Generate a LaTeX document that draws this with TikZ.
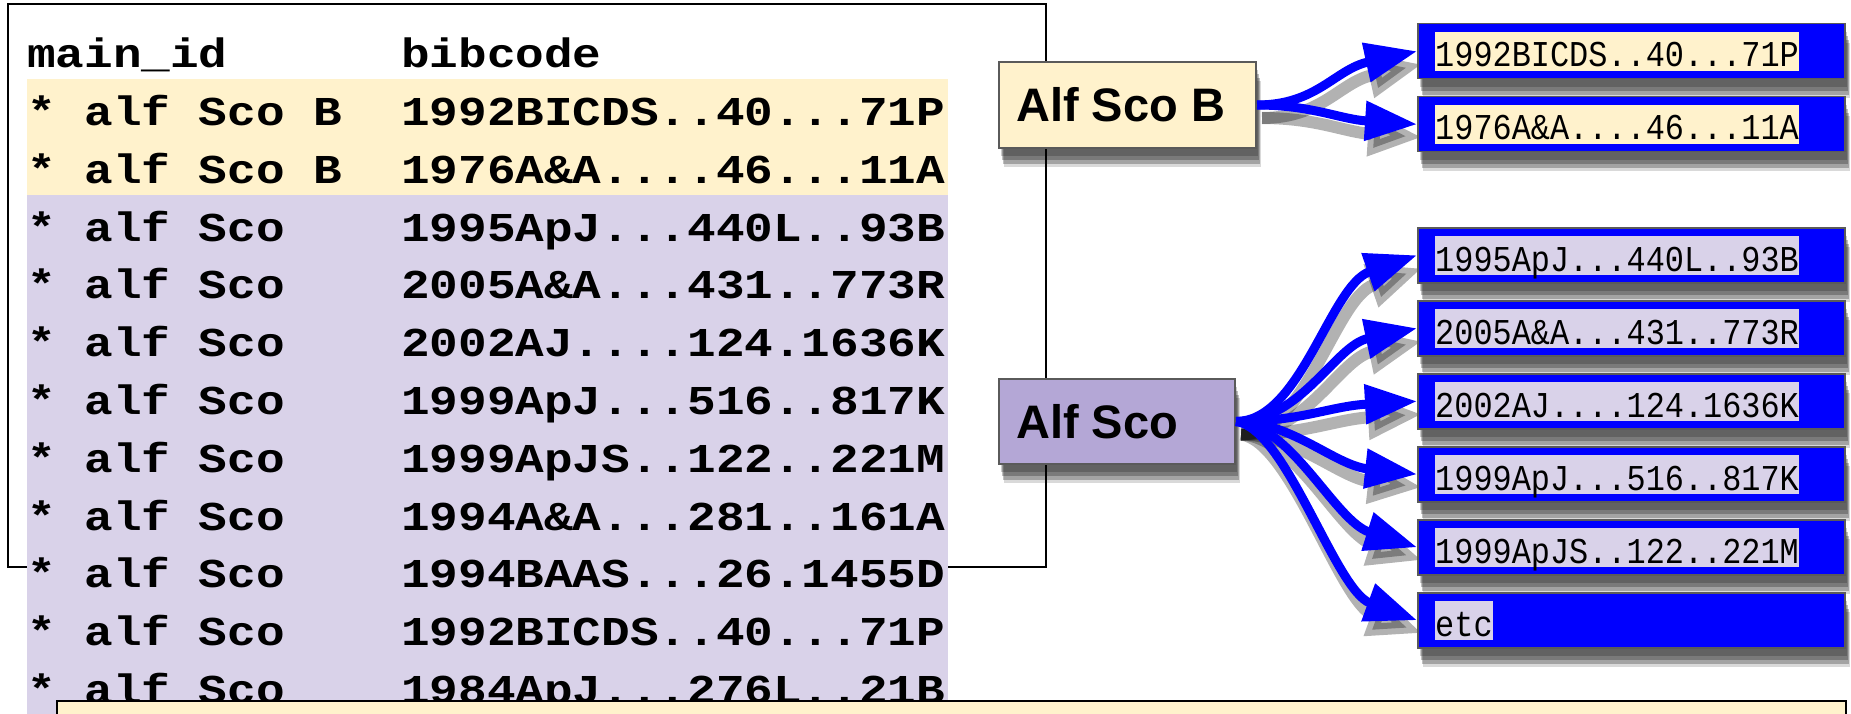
\documentclass[tikz,border=0pt]{standalone}
\usepackage{fontspec}
\usepackage{graphicx}
\newfontfamily\tabfont{Liberation Mono}
\newfontfamily\lblfont{Liberation Sans}
\usetikzlibrary{arrows.meta,shadows,calc}
\definecolor{cream}{HTML}{FFF2CC}
\definecolor{lav}{HTML}{D9D2E9}
\definecolor{lavdark}{HTML}{B4A7D6}
\definecolor{boxblue}{HTML}{0000FF}
\definecolor{edgegray}{HTML}{5A5A5A}
\pgfdeclarelayer{bg}
\pgfsetlayers{bg,main}
\tikzset{
  rowtext/.style={anchor=base west, inner sep=0pt,
    font=\tabfont\bfseries\fontsize{47.7}{58}\selectfont},
  softshadow/.style={
    general shadow={shadow xshift=2pt, shadow yshift=-8pt, fill=black, opacity=0.2},
    general shadow={shadow xshift=3pt, shadow yshift=-12pt, fill=black, opacity=0.25},
    general shadow={shadow xshift=4pt, shadow yshift=-16pt, fill=black, opacity=0.25},
    general shadow={shadow xshift=5pt, shadow yshift=-19pt, fill=black, opacity=0.15}},
  srcbox/.style={draw=edgegray, line width=2pt, anchor=north west,
    minimum height=86pt, inner sep=0pt, softshadow},
  srclabel/.style={anchor=west, inner sep=0pt,
    font=\lblfont\bfseries\fontsize{47}{50}\selectfont},
  refbox/.style={draw=edgegray, line width=1.5pt, fill=boxblue, anchor=north west,
    minimum width=427pt, minimum height=55pt, inner sep=0pt, softshadow},
  reftext/.style={anchor=base west, inner sep=0pt, text height=35pt, text depth=4pt,
    font=\tabfont\fontsize{31.9}{38}\selectfont},
  link/.style={draw=boxblue, line width=9pt, -{Triangle[length=52pt,width=38pt]}},
  linkshadow/.style={draw=black, draw opacity=0.3, fill opacity=0.3, line width=12pt,
    -{Triangle[length=54pt,width=42pt]}},
}
\newcommand\allLinks[1]{%
  \draw[#1] (sB.east) .. controls ($(sB.east)+(60,0)$) and ($(r1.west)+(-82,18)$) .. (r1.west);
  \draw[#1] (sB.east) .. controls ($(sB.east)+(55,0)$) and ($(r2.west)+(-77,-5)$) .. (r2.west);
  \draw[#1] (sA.east) .. controls ($(sA.east)+(65,0)$) and ($(a1.west)+(-87,30)$) .. (a1.west);
  \draw[#1] (sA.east) .. controls ($(sA.east)+(65,0)$) and ($(a2.west)+(-82,17)$) .. (a2.west);
  \draw[#1] (sA.east) .. controls ($(sA.east)+(65,0)$) and ($(a3.west)+(-87,5)$) .. (a3.west);
  \draw[#1] (sA.east) .. controls ($(sA.east)+(55,0)$) and ($(a4.west)+(-82,-9)$) .. (a4.west);
  \draw[#1] (sA.east) .. controls ($(sA.east)+(55,2)$) and ($(a5.west)+(-82,-26)$) .. (a5.west);
  \draw[#1] (sA.east) .. controls ($(sA.east)+(50,6)$) and ($(a6.west)+(-82,-30)$) .. (a6.west);
}
\newcommand\tabRow[3]{%
  \node[rowtext] (n#1) at (27,{67.7+57.8*#1}) {\scalebox{1}[0.86]{#2}};
  \node[rowtext] (b#1) at (401,{67.7+57.8*#1}) {\scalebox{1}[0.86]{#3}};
}
\newcommand\refBox[4]{%
  \node[refbox] (#1) at (1417,#2) {};
  \node[reftext, fill=#3] (t#1) at ([xshift=18pt,yshift=-44pt]#1.north west)
    {\scalebox{1}[1.14]{#4}};
}
\begin{document}
\begin{tikzpicture}[x=1pt,y=-1pt]
\useasboundingbox (0,0) rectangle (1851,714);
% frame
\draw[line width=2pt, fill=white] (8,4) rectangle (1046,567);
% table background
\fill[cream] (27,79) rectangle (948,195);
\fill[lav] (27,195) rectangle (948,730);
% table rows
\tabRow{0}{main\_id}{bibcode}
\tabRow{1}{* alf Sco B}{1992BICDS..40...71P}
\tabRow{2}{* alf Sco B}{1976A\&A....46...11A}
\tabRow{3}{* alf Sco}{1995ApJ...440L..93B}
\tabRow{4}{* alf Sco}{2005A\&A...431..773R}
\tabRow{5}{* alf Sco}{2002AJ....124.1636K}
\tabRow{6}{* alf Sco}{1999ApJ...516..817K}
\tabRow{7}{* alf Sco}{1999ApJS..122..221M}
\tabRow{8}{* alf Sco}{1994A\&A...281..161A}
\tabRow{9}{* alf Sco}{1994BAAS...26.1455D}
\tabRow{10}{* alf Sco}{1992BICDS..40...71P}
\tabRow{11}{* alf Sco}{1984ApJ...276L..21B}
% bottom box
\fill[cream, draw=black, line width=2.5pt] (57,701) rectangle (1846,740);
% source boxes
\node[srcbox, fill=cream, minimum width=257pt] (sB) at (998,61) {};
\node[srclabel] (lB) at ([xshift=18pt]sB.west) {Alf Sco B};
\node[srcbox, fill=lavdark, minimum width=236pt, minimum height=85pt] (sA) at (998,378) {};
\node[srclabel] (lA) at ([xshift=18pt]sA.west) {Alf Sco};
% reference boxes
\refBox{r1}{23}{cream}{1992BICDS..40...71P}
\refBox{r2}{96}{cream}{1976A\&A....46...11A}
\refBox{a1}{227}{lav}{1995ApJ...440L..93B}
\refBox{a2}{300}{lav}{2005A\&A...431..773R}
\refBox{a3}{373}{lav}{2002AJ....124.1636K}
\refBox{a4}{446}{lav}{1999ApJ...516..817K}
\refBox{a5}{519}{lav}{1999ApJS..122..221M}
\refBox{a6}{592}{lav}{etc}
% connector shadows
\begin{pgfonlayer}{bg}
\begin{scope}[transform canvas={xshift=5pt,yshift=-13pt}]
  \allLinks{linkshadow}
\end{scope}
\end{pgfonlayer}
% connectors
\allLinks{link}
\end{tikzpicture}
\end{document}
